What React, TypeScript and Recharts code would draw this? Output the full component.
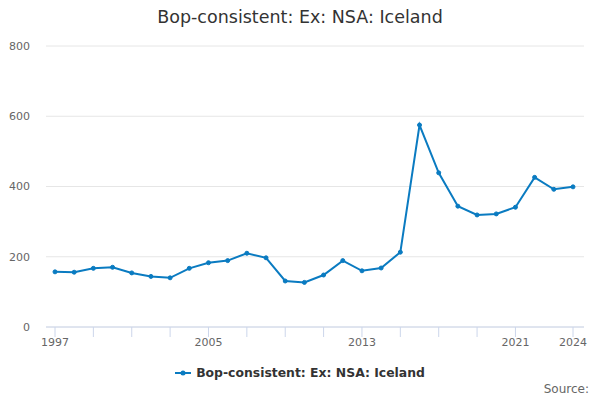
import React from "react";
import { LineChart, Line, XAxis, YAxis, CartesianGrid } from "recharts";

const years = [1997, 1998, 1999, 2000, 2001, 2002, 2003, 2004, 2005, 2006, 2007, 2008, 2009, 2010, 2011, 2012, 2013, 2014, 2015, 2016, 2017, 2018, 2019, 2020, 2021, 2022, 2023, 2024];
const values = [157, 156, 167, 170, 154, 144, 140, 167, 183, 189, 210, 197, 131, 127, 148, 189, 160, 168, 213, 575, 439, 344, 319, 322, 341, 426, 392, 399];
const xTicks = [1997, 1999, 2001, 2003, 2005, 2007, 2009, 2011, 2013, 2015, 2017, 2019, 2021, 2024];
const xLabels = [1997, 2005, 2013, 2021, 2024];
const yTicks = [0, 200, 400, 600, 800];
const seriesName = "Bop-consistent: Ex: NSA: Iceland";
const title = "Bop-consistent: Ex: NSA: Iceland";

const data = years.map((y, i) => ({ year: y, value: values[i] }));

const FONT = "'DejaVu Sans', sans-serif";
const COLOR = "#0a7bc1";

export default function App() {
  return (
    <div style={{ position: "absolute", left: 0, top: 0, width: 600, height: 400, fontFamily: FONT, background: "#fff" }}>
      <LineChart width={600} height={400} data={data} margin={{ top: 46, right: 16, left: 0, bottom: 43 }}>
        <CartesianGrid vertical={false} stroke="#e6e6e6" />
        <XAxis
          dataKey="year"
          type="number"
          domain={[1997, 2024]}
          ticks={xTicks}
          interval={0}
          padding={{ left: 9, right: 11 }}
          height={30}
          tickSize={10}
          tickMargin={1}
          stroke="#ccd6eb"
          tickLine={{ stroke: "#ccd6eb" }}
          tick={{ fill: "#666666", fontSize: 11, fontFamily: FONT }}
          tickFormatter={(v: number) => (xLabels.includes(v) ? String(v) : "")}
        />
        <YAxis
          domain={[0, 800]}
          ticks={yTicks}
          width={46}
          axisLine={false}
          tickLine={false}
          tickMargin={10}
          tick={{ fill: "#666666", fontSize: 11, fontFamily: FONT }}
        />
        <Line
          type="linear"
          dataKey="value"
          name={seriesName}
          stroke={COLOR}
          strokeWidth={2}
          dot={{ r: 2, fill: COLOR, stroke: COLOR, strokeWidth: 1 }}
          isAnimationActive={false}
        />
      </LineChart>
      <div style={{ position: "absolute", top: 7, left: 0, width: 600, textAlign: "center", fontSize: 17.5, color: "#333333" }}>
        {title}
      </div>
      <div style={{ position: "absolute", top: 365, left: 0, width: 600, display: "flex", justifyContent: "center", alignItems: "center" }}>
        <svg width={16} height={10} style={{ marginRight: 5 }}>
          <line x1={0} y1={5} x2={16} y2={5} stroke={COLOR} strokeWidth={2} />
          <circle cx={8} cy={5} r={2.5} fill={COLOR} />
        </svg>
        <span style={{ fontSize: 12.4, fontWeight: "bold", color: "#333333" }}>{seriesName}</span>
      </div>
      <div style={{ position: "absolute", top: 382, right: 11, fontSize: 12, color: "#666666" }}>Source:</div>
    </div>
  );
}
